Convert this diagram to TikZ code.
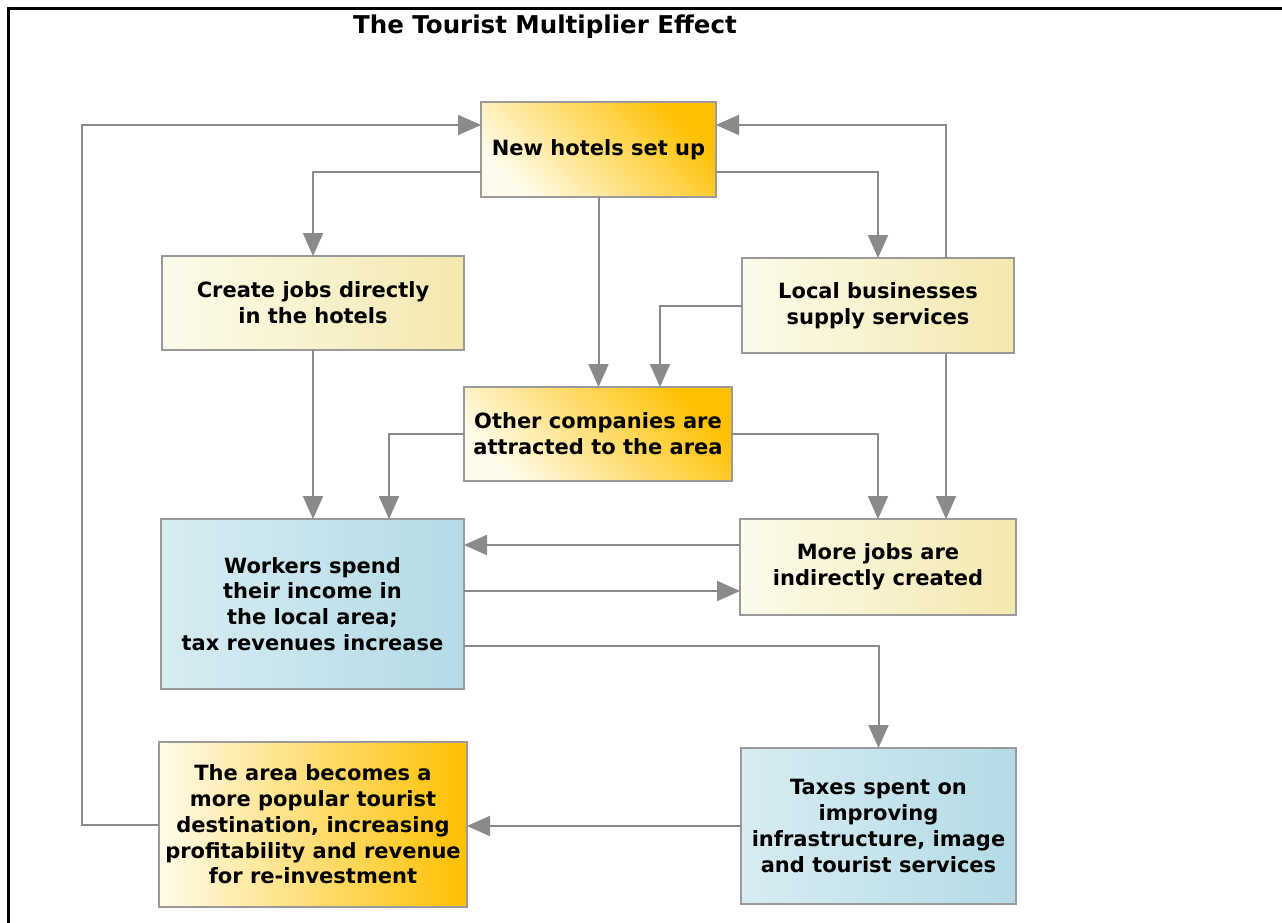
\documentclass[tikz,border=0pt]{standalone}
\usepackage{fontspec}
\setmainfont{DejaVu Sans}
\usetikzlibrary{arrows.meta}
\definecolor{cream}{HTML}{FFFBEA}
\definecolor{orng}{HTML}{FFC000}
\definecolor{paleL}{HTML}{FBFBEB}
\definecolor{paleR}{HTML}{F4E8AE}
\definecolor{blueL}{HTML}{D8ECF2}
\definecolor{blueR}{HTML}{B3DBE6}
\definecolor{linegray}{HTML}{8A8A8A}
\definecolor{boxgray}{HTML}{9A9A9A}
\tikzset{
  box/.style={draw=boxgray, line width=2pt, outer sep=0pt, inner sep=2pt, align=center,
    font=\bfseries\fontsize{21}{25.7}\selectfont, text=black},
  warmdiag/.style={box, left color=cream, right color=orng, shading angle=135},
  warmhor/.style={box, left color=cream, right color=orng},
  pale/.style={box, left color=paleL, right color=paleR},
  bluebox/.style={box, left color=blueL, right color=blueR},
  arr/.style={draw=linegray, line width=2pt, -{Triangle[length=23pt,width=20pt]}, color=linegray},
}
\begin{document}
\begin{tikzpicture}[x=1pt,y=-1pt]
\useasboundingbox (0,0) rectangle (1282,923);
\fill[white] (0,0) rectangle (1282,923);
\draw[black, line width=3pt] (8,923) -- (8,9) -- (1282,9);
\node[font=\bfseries\fontsize{24.5}{28}\selectfont] (title) at (545,27) {The Tourist Multiplier Effect};

\node[warmdiag, minimum width=235pt, minimum height=95pt] (hotels) at (598.5,149.5) {New hotels set up};
\node[pale, minimum width=302pt, minimum height=94pt] (jobs) at (313,303) {Create jobs directly\\in the hotels};
\node[pale, minimum width=272pt, minimum height=95pt] (local) at (878,305.5) {Local businesses\\supply services};
\node[warmdiag, minimum width=268pt, minimum height=94pt] (other) at (598,434) {Other companies are\\attracted to the area};
\node[bluebox, minimum width=303pt, minimum height=170pt] (workers) at (312.5,604) {Workers spend\\their income in\\the local area;\\tax revenues increase};
\node[pale, minimum width=276pt, minimum height=96pt] (more) at (878,567) {More jobs are\\indirectly created};
\node[warmhor, minimum width=308pt, minimum height=165pt] (area) at (313,824.5) {The area becomes a\\more popular tourist\\destination, increasing\\profitability and revenue\\for re-investment};
\node[bluebox, minimum width=275pt, minimum height=156pt] (taxes) at (878.5,826) {Taxes spent on\\improving\\infrastructure, image\\and tourist services};

\draw[arr] ([yshift=-22.5pt]hotels.west) -| (jobs.north);
\draw[arr] ([yshift=-22.5pt]hotels.east) -| (local.north);
\draw[arr] (hotels.south) -- (hotels.south |- other.north);
\draw[arr] (local.west) -| ([xshift=62pt]other.north);
\draw[arr] (jobs.south) -- (jobs.south |- workers.north);
\draw[arr] (other.west) -| ([xshift=76.5pt]workers.north);
\draw[arr] (other.east) -| (more.north);
\draw[arr] ([xshift=68pt]local.south) -- ([xshift=68pt]local.south |- more.north);
\draw[arr] ([yshift=22pt]more.west) -- ([yshift=22pt]more.west -| workers.east);
\draw[arr] ([yshift=13pt]workers.east) -- ([yshift=13pt]workers.east -| more.west);
\draw[arr] ([yshift=-42pt]workers.east) -| (taxes.north);
\draw[arr] (taxes.west) -- (taxes.west -| area.east);
\draw[arr] (area.west) -- ++(-77pt,0) |- ([yshift=24.5pt]hotels.west);
\draw[arr] ([xshift=68pt]local.north) |- ([yshift=24.5pt]hotels.east);
\end{tikzpicture}
\end{document}
